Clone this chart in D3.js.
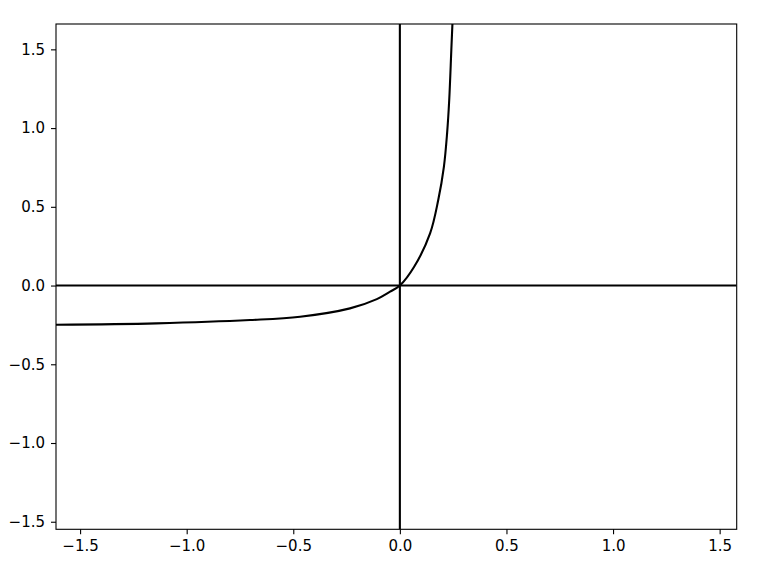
<!DOCTYPE html>
<html>
<head>
<meta charset="utf-8">
<script src="https://cdn.jsdelivr.net/npm/d3@7"></script>
<style>
  html, body { margin: 0; padding: 0; background: #fff; }
  svg { display: block; }
  text { font-family: "DejaVu Sans", sans-serif; }
</style>
</head>
<body>
<svg id="chart" width="768" height="576"></svg>
<script>
// Curve values
const curveX = [-1.613, -1.1435, -0.703, -0.468, -0.234, -0.108, -0.046, 0.0,
                0.067, 0.1417, 0.180, 0.2065, 0.2215, 0.2315, 0.2415, 0.2465, 0.2485];
const curveY = [-0.249, -0.240, -0.219, -0.198, -0.145, -0.086, -0.039, 0.0,
                0.119, 0.331, 0.543, 0.754, 0.966, 1.178, 1.50, 1.66, 1.75];
const xTicks = [-1.5, -1.0, -0.5, 0.0, 0.5, 1.0, 1.5];
const yTicks = [-1.5, -1.0, -0.5, 0.0, 0.5, 1.0, 1.5];
const xDomain = [-1.613, 1.580];
const yDomain = [-1.548, 1.661];

const svg = d3.select("#chart");
const L = 56, R = 736.7, T = 24, B = 529.3;
const x = d3.scaleLinear().domain(xDomain).range([L, R]);
const y = d3.scaleLinear().domain(yDomain).range([B, T]);

svg.append("defs").append("clipPath").attr("id", "clip")
  .append("rect").attr("x", L).attr("y", T).attr("width", R - L).attr("height", B - T);

const plot = svg.append("g").attr("clip-path", "url(#clip)");

// axis lines through origin
plot.append("line").attr("x1", L).attr("x2", R).attr("y1", y(0)).attr("y2", y(0))
  .attr("stroke", "#000").attr("stroke-width", 2.1);
plot.append("line").attr("x1", x(0)).attr("x2", x(0)).attr("y1", T).attr("y2", B)
  .attr("stroke", "#000").attr("stroke-width", 2.1);

const pts = curveX.map((v, i) => [v, curveY[i]]);
const line = d3.line().x(d => x(d[0])).y(d => y(d[1])).curve(d3.curveCatmullRom.alpha(0.5));
plot.append("path").attr("d", line(pts)).attr("fill", "none")
  .attr("stroke", "#000").attr("stroke-width", 2.1).attr("stroke-linejoin", "round");

const fmt = d => d3.format(".1f")(d).replace("-", "\u2212");

const xAxis = svg.append("g").attr("transform", `translate(0,${B})`)
  .call(d3.axisBottom(x).tickValues(xTicks).tickFormat(fmt).tickSize(5).tickPadding(6));
const yAxis = svg.append("g").attr("transform", `translate(${L},0)`)
  .call(d3.axisLeft(y).tickValues(yTicks).tickFormat(fmt).tickSize(5).tickPadding(6));
[xAxis, yAxis].forEach(g => {
  g.select(".domain").remove();
  g.selectAll(".tick line").attr("stroke", "#000").attr("stroke-width", 1.1);
  g.selectAll(".tick text").attr("fill", "#000").style("font-size", "15px")
    .style("font-family", "'DejaVu Sans', sans-serif");
});

// frame
svg.append("rect").attr("x", L).attr("y", T).attr("width", R - L).attr("height", B - T)
  .attr("fill", "none").attr("stroke", "#000").attr("stroke-width", 1.1);
</script>
</body>
</html>
